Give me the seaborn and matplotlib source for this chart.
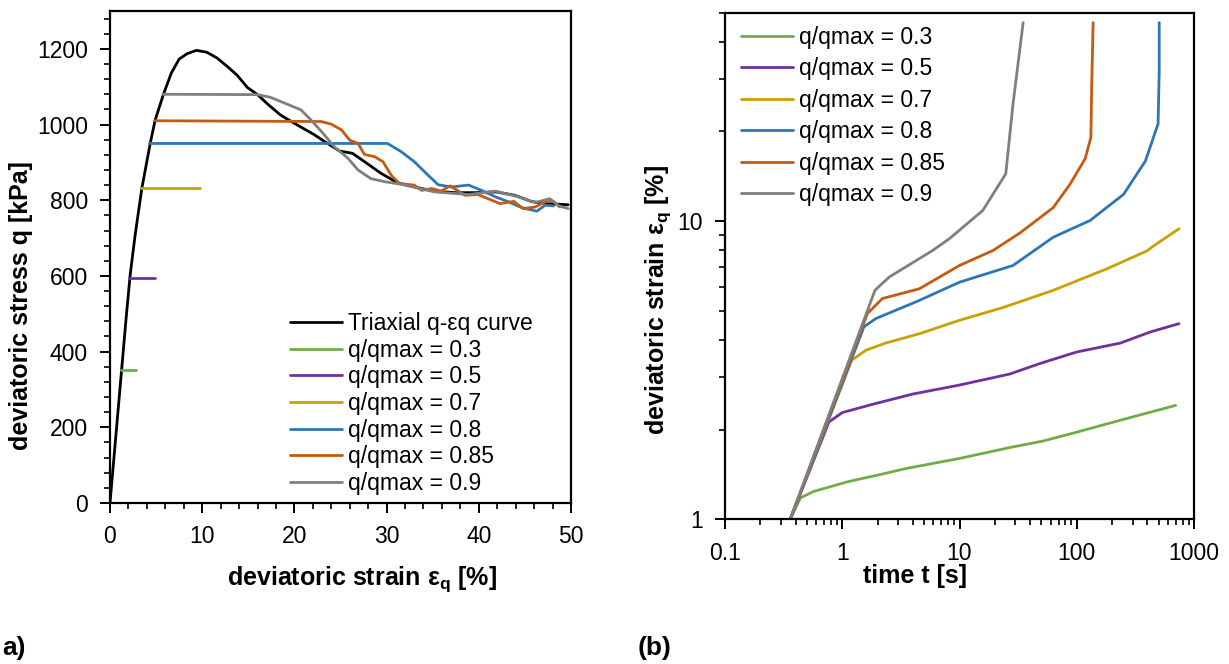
import numpy as np
import pandas as pd
import matplotlib
matplotlib.use("Agg")
import matplotlib.pyplot as plt
import matplotlib.ticker as mticker
import seaborn as sns

# ---------------- data: panel a) ----------------
tri_strain = [0.0, 1.74, 2.18, 2.72, 3.45, 4.36, 4.9, 5.8, 6.65, 7.5, 8.35, 9.37, 10.5, 11.6, 12.7,
              13.8, 14.9, 16.0, 17.1, 18.5, 20.3, 22.1, 23.6, 24.9, 26.3, 27.6, 29.4, 31.2, 33.4,
              35.2, 37.4, 39.6, 41.9, 43.9, 45.8, 47.6, 49.7]
tri_q = [0, 486, 601, 707, 831, 950, 1012, 1080, 1136, 1173, 1187, 1196, 1191, 1176, 1154,
         1130, 1098, 1079, 1054, 1025, 999, 974, 950, 930, 924, 902, 871, 846, 833,
         824, 820, 820, 822, 813, 796, 791, 788]

s03_strain = [1.16, 2.83]
s03_q = [352, 352]
s05_strain = [2.1, 4.9]
s05_q = [594, 594]
s07_strain = [3.34, 9.73]
s07_q = [831, 831]
s08_strain = [4.28, 30.1, 31.6, 33.0, 34.5, 35.6, 37.0, 38.9, 40.3, 41.8, 43.2, 44.7, 46.3, 47.2, 48.1]
s08_q = [950, 950, 928, 902, 866, 841, 835, 840, 826, 809, 796, 780, 771, 787, 785]
s085_strain = [4.87, 22.9, 24.0, 25.1, 26.0, 26.9, 27.6, 28.7, 29.6, 30.5, 31.4, 33.0, 33.8, 34.9,
               35.9, 36.9, 38.5, 39.9, 41.0, 42.3, 43.8, 44.8, 46.1, 47.2, 48.1, 48.8]
s085_q = [1010, 1008, 1001, 986, 959, 950, 921, 915, 902, 866, 844, 840, 826, 831,
          824, 838, 813, 815, 804, 791, 797, 778, 782, 796, 797, 782]
s09_strain = [5.74, 16.0, 17.4, 18.9, 20.7, 21.8, 23.1, 24.3, 25.8, 26.9, 28.3, 29.8, 31.6, 35.2,
              38.9, 41.8, 44.3, 46.1, 47.7, 48.7, 49.7]
s09_q = [1080, 1079, 1072, 1057, 1039, 1012, 977, 942, 911, 880, 857, 849, 842, 822,
         815, 824, 809, 794, 804, 785, 778]

# ---------------- data: panel (b) ----------------
c03_t = [0.36, 0.44, 0.57, 1.14, 2.06, 3.49, 10, 26.8, 51.6, 100, 236, 697]
c03_e = [1.0, 1.18, 1.24, 1.34, 1.41, 1.48, 1.60, 1.74, 1.83, 1.96, 2.15, 2.41]
c05_t = [0.36, 0.77, 1.0, 1.81, 3.98, 10, 26.8, 48.5, 100, 236, 425, 745]
c05_e = [1.0, 2.12, 2.28, 2.43, 2.63, 2.82, 3.07, 3.33, 3.64, 3.90, 4.25, 4.53]
c07_t = [0.36, 1.2, 1.59, 2.35, 4.54, 10, 23.5, 63, 181, 398, 437, 745]
c07_e = [1.0, 3.41, 3.69, 3.90, 4.19, 4.65, 5.13, 5.86, 6.92, 7.95, 8.18, 9.43]
c08_t = [0.36, 1.53, 1.93, 4.54, 10, 28.6, 63, 130, 251, 385, 494, 505, 505]
c08_e = [1.0, 4.42, 4.71, 5.42, 6.24, 7.10, 8.83, 10.05, 12.3, 15.9, 21.2, 31.9, 46.3]
c085_t = [0.36, 1.64, 2.2, 4.54, 10, 19.3, 32.7, 63, 87.7, 118, 132, 134, 138]
c085_e = [1.0, 4.9, 5.5, 5.93, 7.1, 7.97, 9.12, 11.1, 13.3, 16.2, 19.1, 28.1, 46.3]
c09_t = [0.36, 1.9, 2.51, 5.9, 8.2, 15.8, 24.8, 28.6, 34.9]
c09_e = [1.0, 5.86, 6.49, 7.97, 8.73, 10.86, 14.4, 24.7, 46.3]

labels = ["q/qmax = 0.3", "q/qmax = 0.5", "q/qmax = 0.7", "q/qmax = 0.8",
          "q/qmax = 0.85", "q/qmax = 0.9"]
colors = ["#70AD47", "#7030A0", "#CCA000", "#2E75B6", "#C55A11", "#7F7F7F"]

# ---------------- style ----------------
sns.set_theme(style="ticks")
plt.rcParams["font.family"] = ["Liberation Sans", "DejaVu Sans"]
plt.rcParams["axes.linewidth"] = 1.6
plt.rcParams["xtick.major.width"] = 1.4
plt.rcParams["ytick.major.width"] = 1.4
plt.rcParams["xtick.minor.width"] = 1.2
plt.rcParams["ytick.minor.width"] = 1.2
plt.rcParams["axes.edgecolor"] = "black"
plt.rcParams["xtick.color"] = "black"
plt.rcParams["ytick.color"] = "black"
plt.rcParams["text.color"] = "black"
plt.rcParams["axes.labelcolor"] = "black"
plt.rcParams["xtick.labelcolor"] = "black"
plt.rcParams["ytick.labelcolor"] = "black"

FS = 16.5
LFS = 18
fig = plt.figure(figsize=(12.29, 6.64), dpi=100)
ax1 = fig.add_axes([110 / 1229, 1 - 503 / 664, (571 - 110) / 1229, (503 - 11) / 664])
ax2 = fig.add_axes([725 / 1229, 1 - 519.3 / 664, (1194 - 725) / 1229, (519.3 - 12.7) / 664])

# panel a
dfa = pd.DataFrame({"x": tri_strain, "y": tri_q})
sns.lineplot(data=dfa, x="x", y="y", ax=ax1, color="black", lw=2.0, sort=False,
             estimator=None, label="Triaxial q-εq curve")
for xs, ys, lab, c in zip([s03_strain, s05_strain, s07_strain, s08_strain, s085_strain, s09_strain],
                          [s03_q, s05_q, s07_q, s08_q, s085_q, s09_q], labels, colors):
    d = pd.DataFrame({"x": xs, "y": ys})
    sns.lineplot(data=d, x="x", y="y", ax=ax1, color=c, lw=2.0, sort=False,
                 estimator=None, label=lab)

ax1.set_xlim(0, 50)
ax1.set_ylim(0, 1300)
ax1.xaxis.set_major_locator(mticker.MultipleLocator(10))
ax1.xaxis.set_minor_locator(mticker.MultipleLocator(2))
ax1.yaxis.set_major_locator(mticker.MultipleLocator(200))
ax1.yaxis.set_minor_locator(mticker.MultipleLocator(40))
ax1.tick_params(axis="both", which="major", length=7, direction="out", labelsize=FS, pad=9)
ax1.tick_params(axis="both", which="minor", length=4, direction="out")
ax1.set_xlabel("deviatoric strain ε$_\\mathregular{q}$ [%]", fontsize=LFS, fontweight="bold")
ax1.set_ylabel("deviatoric stress q [kPa]", fontsize=LFS, fontweight="bold")
ax1.xaxis.set_label_coords((362 - 110) / 461, -(564 - 503) / 492)
ax1.yaxis.set_label_coords(-(110 - 33) / 461, (503 - 306) / 492)
leg1 = ax1.legend(loc="upper left", bbox_to_anchor=(290 / 1229, 1 - 312 / 664),
                  bbox_transform=fig.transFigure, frameon=False, fontsize=FS,
                  handlelength=2.27, handletextpad=0.26, labelspacing=0.16,
                  borderpad=0, borderaxespad=0)

# panel b
for xs, ys, lab, c in zip([c03_t, c05_t, c07_t, c08_t, c085_t, c09_t],
                          [c03_e, c05_e, c07_e, c08_e, c085_e, c09_e], labels, colors):
    d = pd.DataFrame({"t": xs, "e": ys})
    sns.lineplot(data=d, x="t", y="e", ax=ax2, color=c, lw=2.0, sort=False,
                 estimator=None, label=lab)
ax2.set_xscale("log")
ax2.set_yscale("log")
ax2.set_xlim(0.1, 1000)
ax2.set_ylim(1, 50)
ax2.xaxis.set_major_formatter(mticker.FuncFormatter(lambda v, p: f"{v:g}"))
ax2.yaxis.set_major_formatter(mticker.FuncFormatter(lambda v, p: f"{v:g}"))
ax2.xaxis.set_minor_formatter(mticker.NullFormatter())
ax2.yaxis.set_minor_formatter(mticker.NullFormatter())
ax2.tick_params(axis="both", which="major", length=7, direction="out", labelsize=FS, pad=9)
ax2.tick_params(axis="both", which="minor", length=4, direction="out")
ax2.set_xlabel("time t [s]", fontsize=LFS, fontweight="bold")
ax2.set_ylabel("deviatoric strain ε$_\\mathregular{q}$ [%]", fontsize=LFS, fontweight="bold")
ax2.xaxis.set_label_coords((915 - 725) / 469, -(564 - 519.3) / 506.6)
ax2.yaxis.set_label_coords(-(725 - 673) / 469, (519.3 - 300) / 506.6)
leg2 = ax2.legend(loc="upper left", bbox_to_anchor=(741 / 1229, 1 - 26 / 664),
                  bbox_transform=fig.transFigure, frameon=False, fontsize=FS,
                  handlelength=2.27, handletextpad=0.26, labelspacing=0.37,
                  borderpad=0, borderaxespad=0)

for ax in (ax1, ax2):
    for s in ax.spines.values():
        s.set_visible(True)
        s.set_color("black")

fig.text(2 / 1229, 1 - 648 / 664, "a)", fontsize=19, fontweight="bold", va="center", ha="left")
fig.text(638 / 1229, 1 - 648 / 664, "(b)", fontsize=19, fontweight="bold", va="center", ha="left")

fig.savefig("out.png", dpi=100)
